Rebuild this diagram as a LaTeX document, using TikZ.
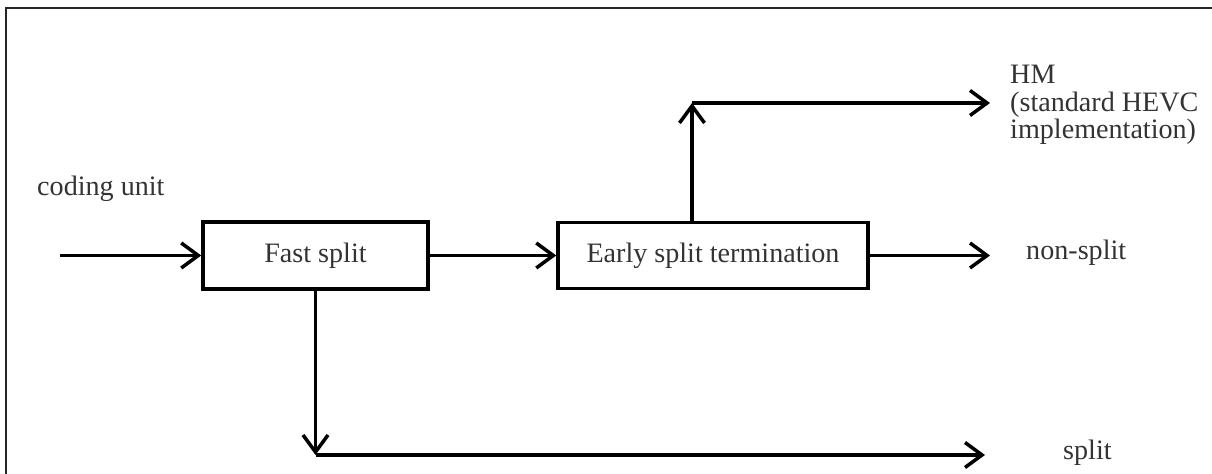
\documentclass[tikz,border=0pt]{standalone}
\usepackage{fontspec}
\setmainfont{Liberation Serif}
\usetikzlibrary{arrows.meta}

\begin{document}
\begin{tikzpicture}[every text node part/.style={align=left}, every node/.style={font=\fontsize{16}{15.5}\selectfont, text=black!80},
  blockbox/.style={draw, line width=2pt, inner sep=0pt}, flow/.style={-{Straight Barb[length=3.4mm,width=5mm,line width=2pt]}, line width=2pt}]

\useasboundingbox(0,0)rectangle(24.24,9.48);
\draw[line width=0.8pt, black!85](0.12,0)--(0.12,9.32)--(24.24,9.32);

\node[blockbox, minimum width=4.5cm, minimum height=1.34cm](fast) at (6.31,4.37){Fast split};
\node[blockbox, minimum width=6.2cm, minimum height=1.32cm](early) at (14.26,4.37){Early split termination};

\node[anchor=west](cu) at (0.62,5.7){coding unit};
\node[anchor=west](hm) at (20.08,7.38){HM\\(standard HEVC\\implementation)};
\node[anchor=west](nonsplit) at (20.4,4.42){non-split};
\node[anchor=west](split) at (21.14,0.42){split};

\coordinate(in) at (1.2,4.37);
\coordinate(hmturn) at (13.84,7.42);
\coordinate(hmend) at (19.8,7.42);
\coordinate(nsend) at (19.8,4.37);
\coordinate(splitturn) at (6.31,0.38);
\coordinate(splitend) at (19.7,0.38);

\draw[flow](in)--(fast.west);
\draw[flow](fast.east)--(early.west);
\draw[flow](early.north -| hmturn)--(hmturn);
\draw[flow](hmturn)--(hmend);
\draw[flow](early.east)--(nsend);
\draw[flow](fast.south)--(splitturn);
\draw[flow](splitturn)--(splitend);

\end{tikzpicture}
\end{document}
